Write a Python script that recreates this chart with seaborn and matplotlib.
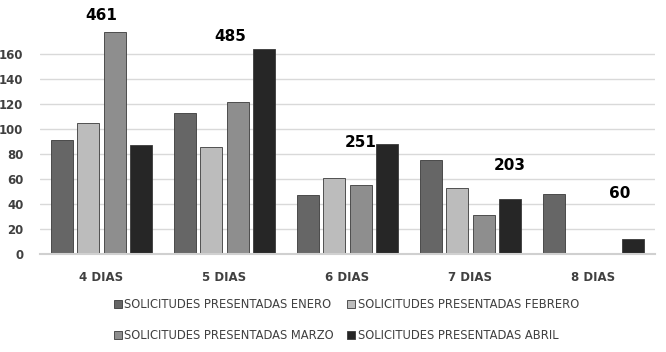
import matplotlib
matplotlib.use("Agg")
import matplotlib.pyplot as plt
import pandas as pd
import seaborn as sns

categories = ["4 DIAS", "5 DIAS", "6 DIAS", "7 DIAS", "8 DIAS"]
series = [
    "SOLICITUDES PRESENTADAS ENERO",
    "SOLICITUDES PRESENTADAS FEBRERO",
    "SOLICITUDES PRESENTADAS MARZO",
    "SOLICITUDES PRESENTADAS ABRIL",
]
enero = [91, 113, 47, 75, 48]
febrero = [105, 86, 61, 53, 0]
marzo = [178, 122, 55, 31, 0]
abril = [87, 164, 88, 44, 12]
totals = [461, 485, 251, 203, 60]

# where the total labels sit (category units / value units)
total_label_x = [0.0, 1.05, 2.11, 3.32, 4.21]
total_label_y = [191, 174, 89, 71, 48]

colors = ["#666666", "#bcbcbc", "#8e8e8e", "#262626"]

rows = []
for s, vals in zip(series, [enero, febrero, marzo, abril]):
    for c, v in zip(categories, vals):
        rows.append({"cat": c, "serie": s, "valor": v})
df = pd.DataFrame(rows)

sns.set_style("white")
plt.rcParams["font.family"] = ["DejaVu Sans"]

fig = plt.figure(figsize=(6.66, 3.52), dpi=100)
ax = fig.add_axes([40 / 666, 1 - 254 / 352, 615 / 666, 250 / 352])

sns.barplot(
    data=df, x="cat", y="valor", hue="serie", palette=colors,
    width=0.86, gap=0.17, edgecolor="#3a3a3a", linewidth=0.6,
    legend=True, ax=ax,
)

ax.set_ylim(0, 200)
ax.set_xlim(-0.5, 4.5)
ax.set_yticks(range(0, 161, 20))
ax.yaxis.grid(True, color="#d9d9d9", linewidth=1)
ax.set_axisbelow(True)
for side in ["top", "right", "left"]:
    ax.spines[side].set_visible(False)
ax.spines["bottom"].set_color("#d0d0d0")
ax.spines["bottom"].set_linewidth(1.5)
ax.tick_params(axis="both", length=0, labelsize=8.5, colors="#404040")
for lab in ax.get_xticklabels() + ax.get_yticklabels():
    lab.set_fontweight("bold")
ax.tick_params(axis="x", pad=12)
ax.tick_params(axis="y", pad=12)
ax.set_xlabel("")
ax.set_ylabel("")

for t, x, y in zip(totals, total_label_x, total_label_y):
    ax.text(x, y, str(t), ha="center", va="center", fontsize=11,
            fontweight="bold", color="black")

handles, labels = ax.get_legend_handles_labels()
ax.get_legend().remove()
# legend fills row by row in the reference
order = [0, 2, 1, 3]
fig.legend(
    [handles[i] for i in order], [labels[i] for i in order],
    loc="center", bbox_to_anchor=(0.52, 1 - 320 / 352),
    ncol=2, frameon=False, fontsize=8.3, handlelength=0.7, handleheight=0.7,
    handletextpad=0.2, columnspacing=1.2, labelspacing=1.6,
    labelcolor="#404040",
)

fig.savefig("out.png", dpi=100)
